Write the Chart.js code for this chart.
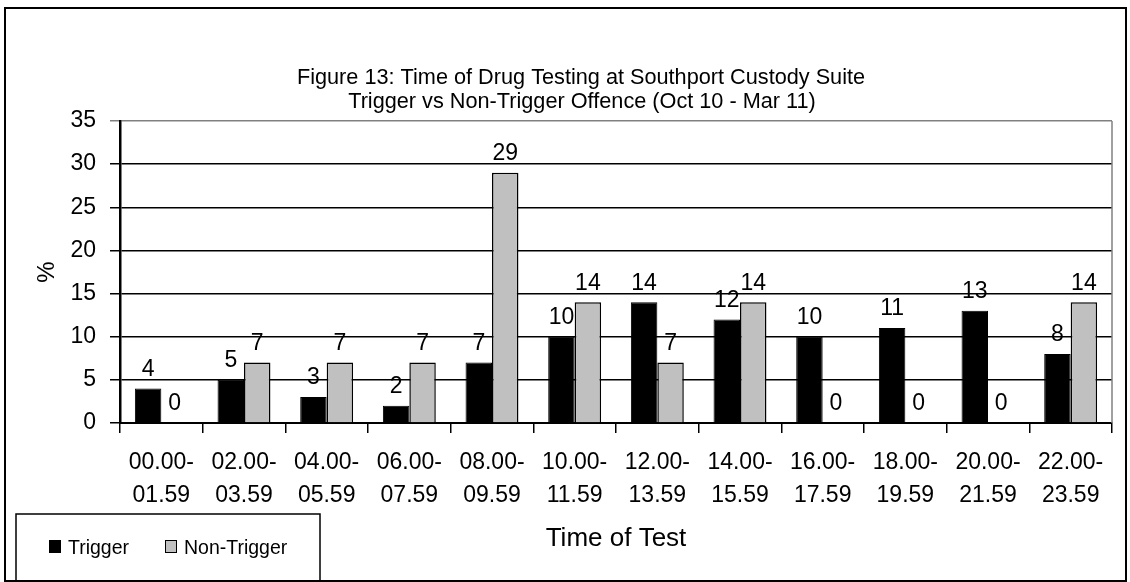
<!DOCTYPE html>
<html>
<head>
<meta charset="utf-8">
<script src="https://cdn.jsdelivr.net/npm/chart.js@4/dist/chart.umd.min.js"></script>
<style>
    body { margin: 0; background: #fff; }
    #wrap { position: relative; width: 1130px; height: 582px; }
    #frame { position: absolute; left: 4px; top: 7px; width: 1119px; height: 571px; border: 2px solid #000; pointer-events: none; }
</style>
</head>
<body>
<div id="wrap">
    <canvas id="drug-testing-chart" width="1130" height="582"></canvas>
    <div id="frame"></div>
</div>
<script>
var time_labels = [
    ['00.00-', '01.59'], ['02.00-', '03.59'], ['04.00-', '05.59'], ['06.00-', '07.59'],
    ['08.00-', '09.59'], ['10.00-', '11.59'], ['12.00-', '13.59'], ['14.00-', '15.59'],
    ['16.00-', '17.59'], ['18.00-', '19.59'], ['20.00-', '21.59'], ['22.00-', '23.59']
];
var trigger_values = [4, 5, 3, 2, 7, 10, 14, 12, 10, 11, 13, 8];
var non_trigger_values = [0, 7, 7, 7, 29, 14, 7, 14, 0, 0, 0, 14];
var title_lines = ['Figure 13: Time of Drug Testing at Southport Custody Suite', 'Trigger vs Non-Trigger Offence (Oct 10 - Mar 11)'];

var FONT = '"Liberation Sans", Arial, sans-serif';

// value labels above each bar
var barLabels = {
    id: 'barLabels',
    afterDatasetsDraw: function (chart) {
        var ctx = chart.ctx;
        ctx.save();
        ctx.font = '23px ' + FONT;
        ctx.fillStyle = '#000';
        ctx.textAlign = 'center';
        ctx.textBaseline = 'middle';
        chart.data.datasets.forEach(function (ds, i) {
            chart.getDatasetMeta(i).data.forEach(function (bar, j) {
                ctx.fillText(ds.data[j], bar.x, bar.y - 19);
            });
        });
        ctx.restore();
    }
};

// title, right plot border and boxed legend
var extras = {
    id: 'extras',
    afterDraw: function (chart) {
        var ctx = chart.ctx;
        var area = chart.chartArea;
        ctx.save();

        ctx.strokeStyle = '#808080';
        ctx.lineWidth = 1.5;
        ctx.beginPath();
        ctx.moveTo(area.right, area.top);
        ctx.lineTo(area.right, area.bottom);
        ctx.stroke();

        ctx.fillStyle = '#000';
        ctx.font = '21.7px ' + FONT;
        ctx.textAlign = 'center';
        ctx.textBaseline = 'middle';
        ctx.fillText(title_lines[0], 581, 78);
        ctx.fillText(title_lines[1], 582, 102);

        ctx.strokeStyle = '#000';
        ctx.lineWidth = 1.5;
        ctx.strokeRect(16, 514, 304, 80);

        ctx.font = '19.5px ' + FONT;
        ctx.textAlign = 'left';
        var x = 49;
        chart.data.datasets.forEach(function (ds) {
            ctx.fillStyle = ds.backgroundColor;
            ctx.fillRect(x, 540, 12, 13);
            ctx.strokeStyle = '#000';
            ctx.lineWidth = 1;
            ctx.strokeRect(x + 0.5, 540.5, 11, 12);
            ctx.fillStyle = '#000';
            ctx.fillText(ds.label, x + 19, 549);
            x += 116;
        });
        ctx.restore();
    }
};

var ctx = document.getElementById('drug-testing-chart');
var DrugTestingChart = new Chart(ctx, {
    type: 'bar',
    data: {
        labels: time_labels,
        datasets: [{
            label: 'Trigger',
            data: trigger_values,
            backgroundColor: '#000000',
            borderColor: '#000000',
            borderWidth: 1
        }, {
            label: 'Non-Trigger',
            data: non_trigger_values,
            backgroundColor: '#c0c0c0',
            borderColor: '#000000',
            borderWidth: 1.5
        }]
    },
    plugins: [barLabels, extras],
    options: {
        responsive: false,
        animation: false,
        layout: {
            padding: { left: 0, top: 121, right: 18, bottom: 0 }
        },
        plugins: {
            legend: { display: false },
            title: { display: false },
            tooltip: { enabled: false }
        },
        datasets: {
            bar: { categoryPercentage: 0.64, barPercentage: 1.0 }
        },
        scales: {
            x: {
                afterFit: function (scale) { scale.height = 159; },
                grid: {
                    drawOnChartArea: false,
                    drawTicks: true,
                    tickLength: 10,
                    color: '#000',
                    lineWidth: 1.5,
                    offset: true
                },
                border: { color: '#000', width: 2 },
                ticks: {
                    color: '#000',
                    font: { family: FONT, size: 23, lineHeight: 1.45 },
                    padding: 13,
                    maxRotation: 0,
                    autoSkip: false
                },
                title: {
                    display: true,
                    text: 'Time of Test',
                    color: '#000',
                    font: { family: FONT, size: 26 },
                    padding: { top: 0, bottom: 28 }
                }
            },
            y: {
                min: 0,
                max: 35,
                afterFit: function (scale) { scale.width = 120; },
                grid: {
                    color: function (c) { return c.tick && c.tick.value === 35 ? '#808080' : '#000'; },
                    lineWidth: 1.5,
                    tickLength: 10
                },
                border: { color: '#000', width: 2.5 },
                ticks: {
                    stepSize: 5,
                    color: '#000',
                    font: { family: FONT, size: 23 },
                    padding: 14
                },
                title: {
                    display: true,
                    text: '%',
                    color: '#000',
                    font: { family: FONT, size: 24 },
                    padding: { top: 33, bottom: 0 }
                }
            }
        }
    }
});
</script>
</body>
</html>
